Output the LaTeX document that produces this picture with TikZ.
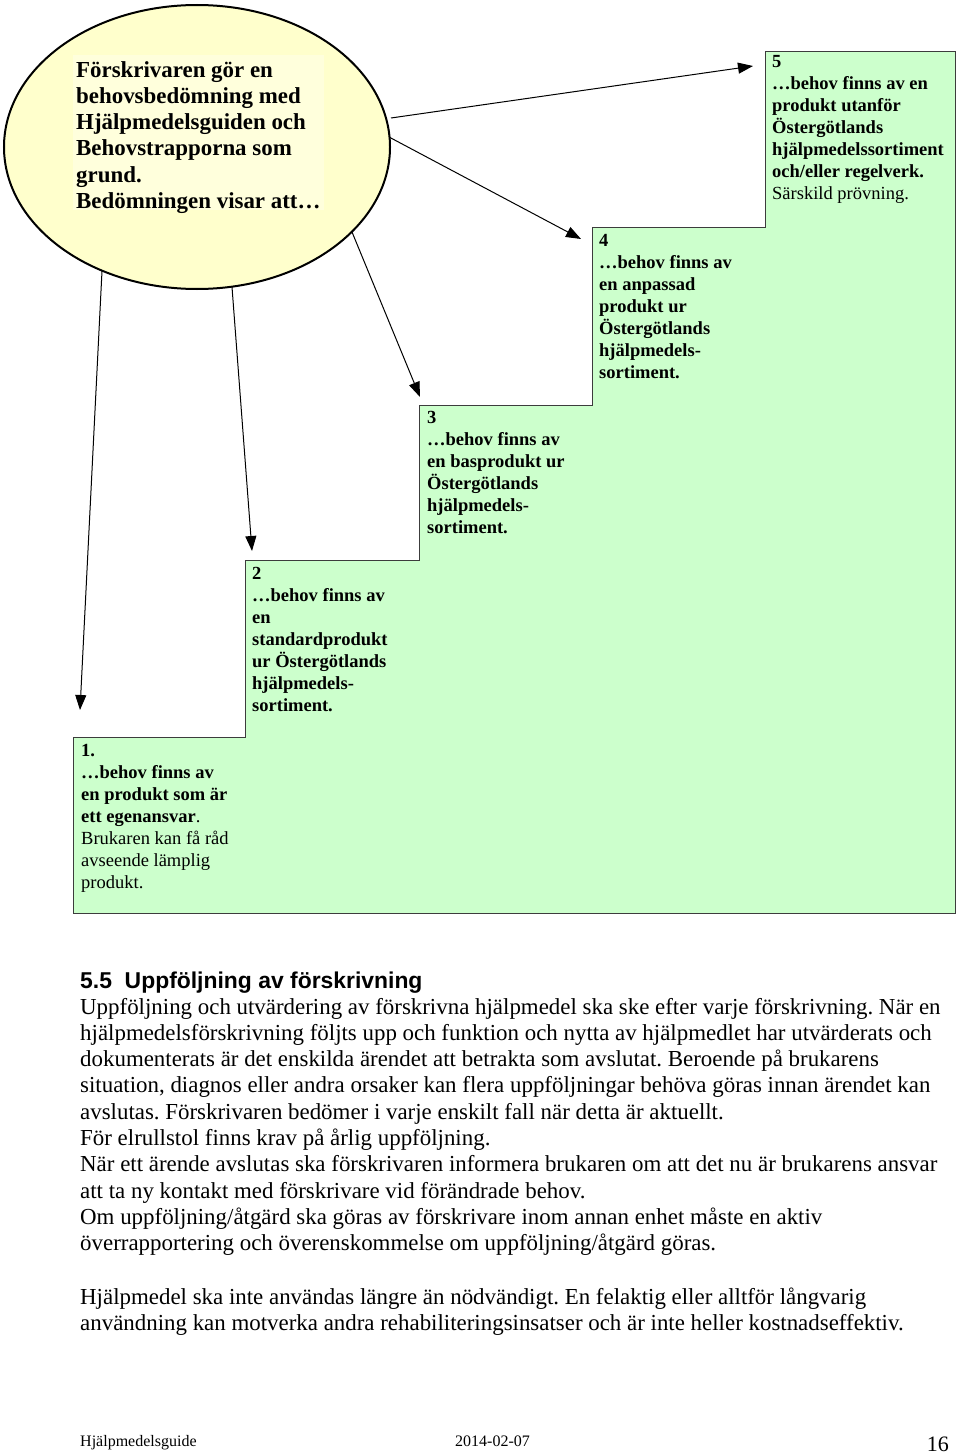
\documentclass[tikz,border=0pt]{standalone}
\usepackage{fontspec}
\setmainfont{Liberation Serif}
\newfontfamily\headfont{Liberation Sans}
\usetikzlibrary{shapes.geometric,arrows.meta}
\definecolor{stepgreen}{RGB}{204,255,204}
\definecolor{elfill}{RGB}{255,255,204}
\definecolor{elbox}{RGB}{255,255,220}
\definecolor{stepline}{RGB}{60,60,60}
\frenchspacing
\begin{document}
\begin{tikzpicture}[x=1pt,y=-1pt,
  boxtext/.style={anchor=base west, align=left, inner sep=0pt, font=\fontsize{18.5}{22}\selectfont},
  eltext/.style={anchor=base west, align=left, inner sep=0pt, font=\fontsize{22.9}{26.3}\selectfont\bfseries},
  bodytext/.style={anchor=base west, align=left, inner sep=0pt, font=\fontsize{22.9}{26.3}\selectfont},
  arr/.style={-{Triangle[length=15pt,width=11pt]}, line width=1pt}]
\useasboundingbox (0,0) rectangle (960,1453);
\fill[white] (0,0) rectangle (960,1453);
% staircase
\draw[fill=stepgreen, draw=stepline, line width=1pt]
  (73,913) -- (73,737) -- (245,737) -- (245,560) -- (419,560) -- (419,405)
  -- (592,405) -- (592,227) -- (765,227) -- (765,52) -- (955,52) -- (955,913) -- cycle;
% ellipse
\node[ellipse, draw, line width=2pt, fill=elfill, minimum width=386pt, minimum height=284pt, inner sep=0pt] (ell) at (197,147) {};
\fill[elbox] (73,55) rectangle (324,210);
\node[eltext] (eltxt) at (76,208.5) {Förskrivaren gör en\\behovsbedömning med\\Hjälpmedelsguiden och\\Behovstrapporna som\\grund.\\Bedömningen visar att…};
% step texts (base anchor = baseline of last line)
\node[boxtext] (b5) at (772,199) {\textbf{5}\\\textbf{…behov finns av en}\\\textbf{produkt utanför}\\\textbf{Östergötlands}\\\textbf{hjälpmedelssortiment}\\\textbf{och/eller regelverk.}\\Särskild prövning.};
\node[boxtext] (b4) at (599,378) {\textbf{4}\\\textbf{…behov finns av}\\\textbf{en anpassad}\\\textbf{produkt ur}\\\textbf{Östergötlands}\\\textbf{hjälpmedels-}\\\textbf{sortiment.}};
\node[boxtext] (b3) at (427,533) {\textbf{3}\\\textbf{…behov finns av}\\\textbf{en basprodukt ur}\\\textbf{Östergötlands}\\\textbf{hjälpmedels-}\\\textbf{sortiment.}};
\node[boxtext] (b2) at (252,711) {\textbf{2}\\\textbf{…behov finns av}\\\textbf{en}\\\textbf{standardprodukt}\\\textbf{ur Östergötlands}\\\textbf{hjälpmedels-}\\\textbf{sortiment.}};
\node[boxtext] (b1) at (81,888) {\textbf{1.}\\\textbf{…behov finns av}\\\textbf{en produkt som är}\\\textbf{ett egenansvar}.\\Brukaren kan få råd\\avseende lämplig\\produkt.};
% arrows
\coordinate (s1) at (102,271);
\coordinate (s2) at (232,287);
\coordinate (s3) at (352,232);
\coordinate (s4) at (389,137);
\coordinate (s5) at (391,118);
\coordinate (e1) at (80,710);
\coordinate (e2) at (252,551);
\coordinate (e3) at (420,397);
\coordinate (e4) at (581,239);
\coordinate (e5) at (753,66);
\draw[arr] (s1) -- (e1);
\draw[arr] (s2) -- (e2);
\draw[arr] (s3) -- (e3);
\draw[arr] (s4) -- (e4);
\draw[arr] (s5) -- (e5);
% body text
\node[anchor=base west, inner sep=0pt, font=\headfont\bfseries\fontsize{22.9}{26.3}\selectfont] (head) at (80,988) {5.5\ \ Uppföljning av förskrivning};
\node[bodytext] (body1) at (80,1250.7) {Uppföljning och utvärdering av förskrivna hjälpmedel ska ske efter varje förskrivning. När en\\
hjälpmedelsförskrivning följts upp och funktion och nytta av hjälpmedlet har utvärderats och\\
dokumenterats är det enskilda ärendet att betrakta som avslutat. Beroende på brukarens\\
situation, diagnos eller andra orsaker kan flera uppföljningar behöva göras innan ärendet kan\\
avslutas. Förskrivaren bedömer i varje enskilt fall när detta är aktuellt.\\
För elrullstol finns krav på årlig uppföljning.\\
När ett ärende avslutas ska förskrivaren informera brukaren om att det nu är brukarens ansvar\\
att ta ny kontakt med förskrivare vid förändrade behov.\\
Om uppföljning/åtgärd ska göras av förskrivare inom annan enhet måste en aktiv\\
överrapportering och överenskommelse om uppföljning/åtgärd göras.};
\node[bodytext] (body2) at (80,1330.3) {Hjälpmedel ska inte användas längre än nödvändigt. En felaktig eller alltför långvarig\\
användning kan motverka andra rehabiliteringsinsatser och är inte heller kostnadseffektiv.};
% footer
\node[anchor=base west, inner sep=0pt, font=\fontsize{16}{18}\selectfont] (foot1) at (80,1446) {Hjälpmedelsguide};
\node[anchor=base west, inner sep=0pt, font=\fontsize{16}{18}\selectfont] (foot2) at (455,1446) {2014-02-07};
\node[anchor=base east, inner sep=0pt, font=\fontsize{22}{24}\selectfont] (foot3) at (949,1451) {16};
\end{tikzpicture}
\end{document}
